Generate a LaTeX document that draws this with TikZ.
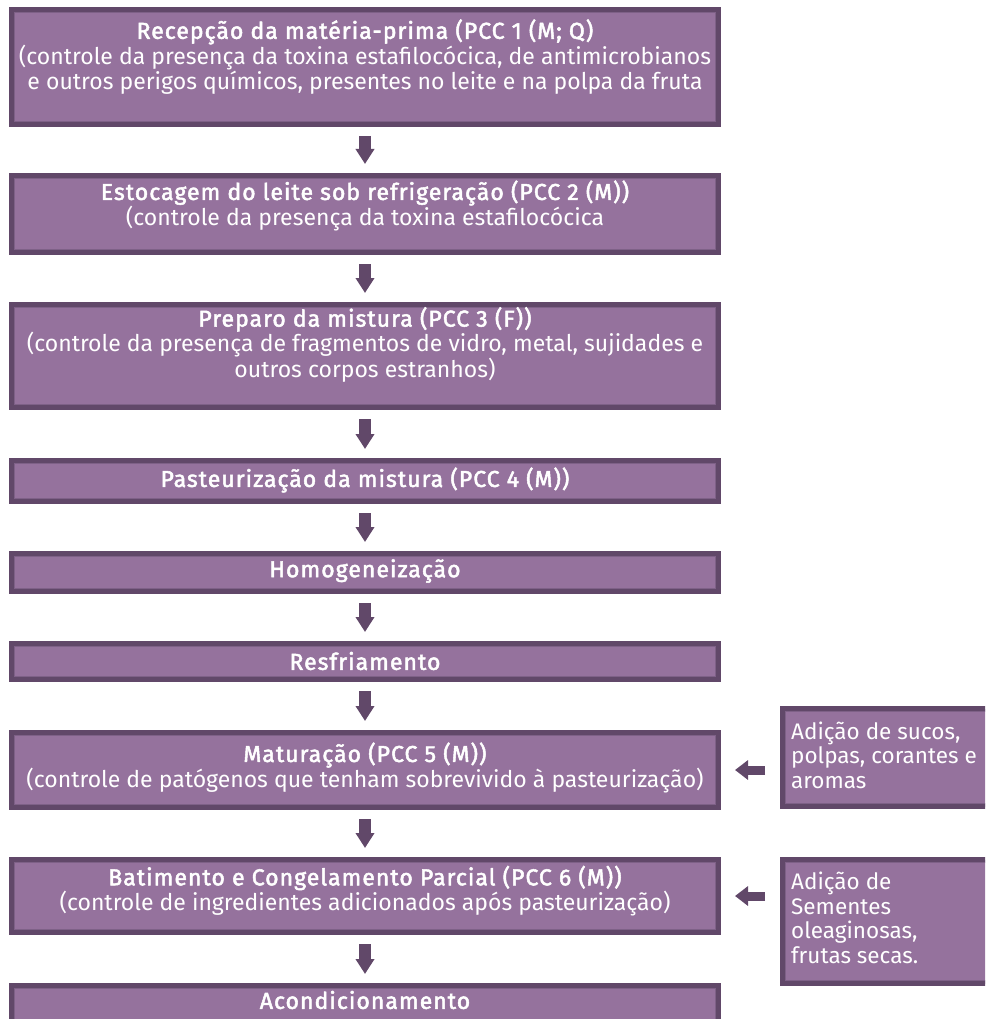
\documentclass[tikz,border=0pt]{standalone}
\usepackage{fontspec}
\setmainfont{Fira Sans}
\newfontfamily\semib{Fira Sans}[FakeBold=2.2, LetterSpace=4.5]
\usetikzlibrary{arrows.meta}
\definecolor{boxfill}{HTML}{95729D}
\definecolor{boxdark}{HTML}{614869}
\definecolor{boxmid}{HTML}{7E6187}
\begin{document}
\begin{tikzpicture}[x=1pt,y=-1pt,
  box/.style={draw=boxdark, fill=boxfill, line width=5pt, inner sep=0pt,
    path picture={\draw[boxmid,line width=1.2pt] ([shift={(3.1pt,-3.1pt)}]path picture bounding box.north west) rectangle ([shift={(-3.1pt,3.1pt)}]path picture bounding box.south east);}},
  txt/.style={text=white, inner sep=0pt, font=\fontsize{23}{22.5}\selectfont},
  ctxt/.style={txt, align=center},
  ltxt/.style={txt, align=left, anchor=west, font=\fontsize{22.5}{24.5}\selectfont},
  varr/.style={draw=boxdark, line width=12pt, -{Triangle[width=18pt,length=15pt]}, shorten <=9pt, shorten >=9pt},
  harr/.style={draw=boxdark, line width=9pt, -{Triangle[width=19pt,length=13pt]}, shorten <=15pt, shorten >=14pt}]
\useasboundingbox (0,0) rectangle (985,1019);
\clip (0,0) rectangle (985,1019);
% main boxes
\node[box, minimum width=707pt, minimum height=115pt] (b1) at (365,67) {};
\node[box, minimum width=707pt, minimum height=77pt] (b2) at (365,214) {};
\node[box, minimum width=707pt, minimum height=103pt] (b3) at (365,356) {};
\node[box, minimum width=707pt, minimum height=41pt] (b4) at (365,481) {};
\node[box, minimum width=707pt, minimum height=38pt] (b5) at (365,572.5) {};
\node[box, minimum width=707pt, minimum height=36pt] (b6) at (365,661.5) {};
\node[box, minimum width=707pt, minimum height=75pt] (b7) at (365,770) {};
\node[box, minimum width=707pt, minimum height=73pt] (b8) at (365,896) {};
\node[box, minimum width=707pt, minimum height=47pt] (b9) at (365,1009) {};
% side boxes
\node[box, minimum width=215pt, minimum height=98pt] (s1) at (890,757.5) {};
\node[box, minimum width=215pt, minimum height=124pt] (s2) at (890,921.5) {};
% texts
\node[ctxt] (t1) at (365,57) {{\semib Recepção da matéria-prima (PCC 1 (M; Q)}\\(controle da presença da toxina estafilocócica, de antimicrobianos\\e outros perigos químicos, presentes no leite e na polpa da fruta};
\node[ctxt] (t2) at (365,206) {{\semib Estocagem do leite sob refrigeração (PCC 2 (M))}\\(controle da presença da toxina estafilocócica};
\node[ctxt] (t3) at (365,345) {{\semib Preparo da mistura (PCC 3 (F))}\\(controle da presença de fragmentos de vidro, metal, sujidades e\\outros corpos estranhos)};
\node[ctxt] (t4) at (365,480) {\semib Pasteurização da mistura (PCC 4 (M))};
\node[ctxt] (t5) at (365,571) {\semib Homogeneização};
\node[ctxt] (t6) at (365,661) {\semib Resfriamento};
\node[ctxt] (t7) at (365,768) {{\semib Maturação (PCC 5 (M))}\\(controle de patógenos que tenham sobrevivido à pasteurização)};
\node[ctxt] (t8) at (365,891) {{\semib Batimento e Congelamento Parcial (PCC 6 (M))}\\(controle de ingredientes adicionados após pasteurização)};
\node[ctxt] (t9) at (365,1000) {\semib Acondicionamento};
\node[ltxt] (u1) at (791,755) {Adição de sucos,\\polpas, corantes e\\aromas};
\node[ltxt] (u2) at (791,918) {Adição de\\Sementes\\oleaginosas,\\frutas secas.};
% arrows
\draw[varr] (b1.south) -- (b2.north);
\draw[varr] (b2.south) -- (b3.north);
\draw[varr] (b3.south) -- (b4.north);
\draw[varr] (b4.south) -- (b5.north);
\draw[varr] (b5.south) -- (b6.north);
\draw[varr] (b6.south) -- (b7.north);
\draw[varr] (b7.south) -- (b8.north);
\draw[varr] (b8.south) -- (b9.north);
\draw[harr] (s1.west |- b7.east) -- (b7.east);
\draw[harr] (s2.west |- b8.east) -- (b8.east);
\end{tikzpicture}
\end{document}
